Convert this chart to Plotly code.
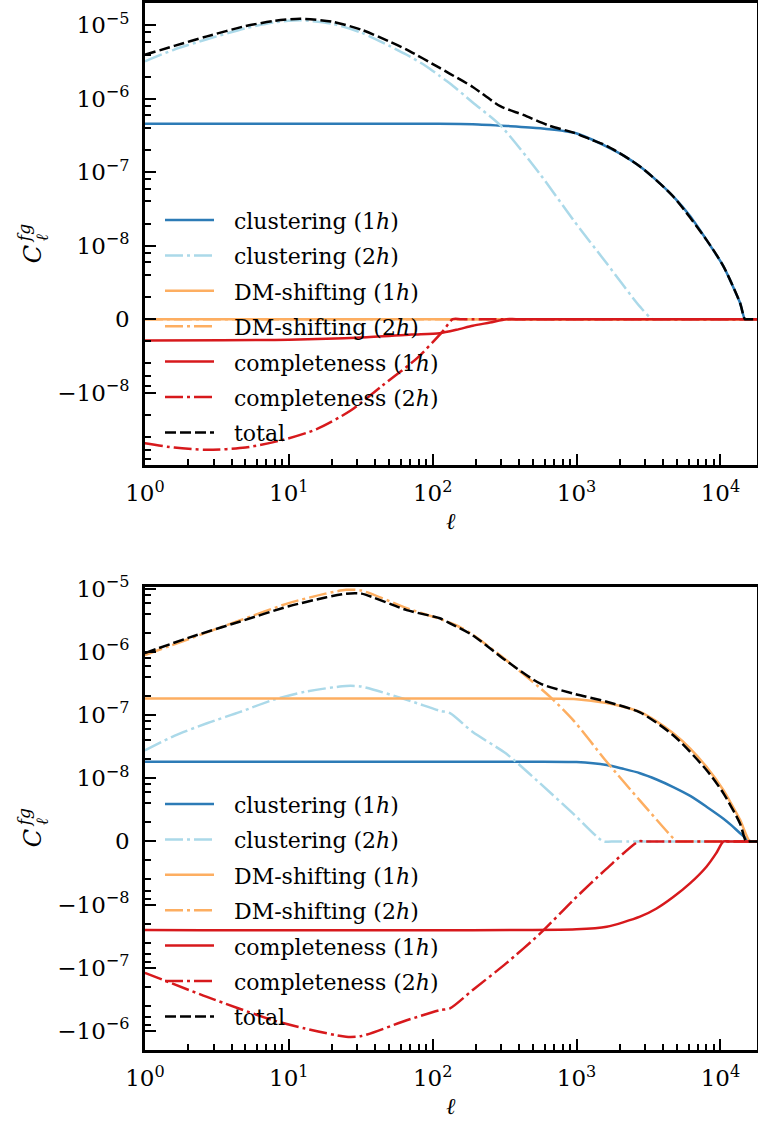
import numpy as np
import plotly.graph_objects as go

# ---------------------------------------------------------------
# Cross-correlation spectra C_ell^{fg}, symmetric-log y axis
# ---------------------------------------------------------------
LINTHRESH = 1e-8


def symlog(v):
    """Symmetric log transform: linear inside +-LINTHRESH, log10 outside (one decade per unit)."""
    v = np.asarray(v, dtype=float)
    a = np.abs(v)
    out = np.where(a < LINTHRESH, v / LINTHRESH,
                   np.sign(v) * (1.0 + np.log10(np.maximum(a, LINTHRESH) / LINTHRESH)))
    return out


# ---------------- upper panel ----------------
ell_top_cl1 = [1, 10, 100, 190, 330, 560, 950, 1230, 1620, 2110, 2760, 3600, 4700,
               6170, 8000, 10500, 12000, 13700, 14800, 15500, 18000]
top_cl1 = [4.57e-7, 4.57e-7, 4.57e-7, 4.52e-7, 4.27e-7, 3.98e-7, 3.47e-7, 2.88e-7,
           2.24e-7, 1.70e-7, 1.20e-7, 7.76e-8, 4.68e-8, 2.51e-8, 1.20e-8, 7.2e-9,
           4.8e-9, 2.2e-9, 0.0, 0.0, 0.0]

ell_top_cl2 = [1, 1.6, 2.7, 5, 8, 12, 20, 32, 50, 66, 89, 112, 132, 190, 295, 560,
               950, 1620, 2760, 3370, 3800, 18000]
top_cl2 = [3.24e-6, 4.68e-6, 6.46e-6, 9.12e-6, 1.10e-5, 1.17e-5, 1.05e-5, 7.94e-6,
           5.25e-6, 3.98e-6, 2.82e-6, 2.04e-6, 1.62e-6, 8.91e-7, 4.37e-7, 9.33e-8,
           2.24e-8, 7.6e-9, 1.7e-9, 0.0, 0.0, 0.0]

ell_top_dm = [1, 18000]
top_dm1 = [0.0, 0.0]
top_dm2 = [0.0, 0.0]

ell_top_co1 = [1, 10, 32, 71, 112, 146, 190, 250, 325, 380, 18000]
top_co1 = [-2.9e-9, -2.8e-9, -2.5e-9, -2.1e-9, -1.9e-9, -1.45e-9, -9.0e-10,
           -4.5e-10, 0.0, 0.0, 0.0]

ell_top_co2 = [1, 1.6, 2.7, 5, 9.1, 15.5, 26.6, 45, 78, 117, 138, 160, 18000]
top_co2 = [-4.9e-8, -5.6e-8, -6.0e-8, -5.6e-8, -4.4e-8, -3.16e-8, -1.78e-8,
           -9.0e-9, -5.3e-9, -1.7e-9, 0.0, 0.0, 0.0]

ell_top_tot = [1, 1.6, 2.7, 5, 8, 12, 20, 32, 50, 66, 112, 132, 190, 295, 427, 653,
               950, 1240, 1620, 2760, 4700, 8000, 10500, 13700, 14800, 15500, 18000]
top_tot = [3.98e-6, 5.25e-6, 7.08e-6, 9.77e-6, 1.15e-5, 1.23e-5, 1.12e-5, 8.71e-6,
           6.03e-6, 4.68e-6, 2.63e-6, 2.19e-6, 1.45e-6, 7.94e-7, 6.03e-7, 4.27e-7,
           3.47e-7, 2.82e-7, 2.29e-7, 1.20e-7, 4.68e-8, 1.20e-8, 7.2e-9, 2.2e-9,
           0.0, 0.0, 0.0]

# ---------------- lower panel ----------------
ell_bot_cl1 = [1, 316, 1000, 1620, 2110, 2760, 3600, 4700, 6170, 8000, 10500, 12000,
               13700, 16200, 18000]
bot_cl1 = [1.82e-8, 1.82e-8, 1.80e-8, 1.62e-8, 1.41e-8, 1.20e-8, 9.8e-9, 8.6e-9,
           7.2e-9, 5.5e-9, 3.6e-9, 2.5e-9, 1.3e-9, 0.0, 0.0]

ell_bot_cl2 = [1, 1.6, 2.7, 4.6, 7.8, 13, 25, 32, 66, 112, 132, 190, 324, 557, 948,
               1535, 1750, 18000]
bot_cl2 = [2.75e-8, 4.68e-8, 7.41e-8, 1.12e-7, 1.74e-7, 2.34e-7, 2.88e-7, 2.82e-7,
           1.74e-7, 1.17e-7, 1.07e-7, 5.37e-8, 2.45e-8, 9.2e-9, 4.4e-9, 0.0, 0.0, 0.0]

ell_bot_dm1 = [1, 316, 1000, 1620, 2110, 2760, 3600, 4700, 6170, 8000, 10500, 12000,
               13700, 16000, 17000, 18000]
bot_dm1 = [1.82e-7, 1.82e-7, 1.78e-7, 1.55e-7, 1.35e-7, 1.12e-7, 7.94e-8, 5.13e-8,
           2.95e-8, 1.51e-8, 8.1e-9, 5.8e-9, 3.4e-9, 0.0, 0.0, 0.0]

ell_bot_dm2 = [1, 2, 4.6, 10, 18, 25, 32, 66, 112, 132, 158, 190, 324, 653, 948, 1620,
               2750, 4700, 5000, 5600, 18000]
bot_dm2 = [8.91e-7, 1.58e-6, 3.16e-6, 5.89e-6, 8.32e-6, 9.55e-6, 9.33e-6, 4.90e-6,
           3.31e-6, 2.88e-6, 2.40e-6, 1.86e-6, 7.41e-7, 1.95e-7, 8.32e-8, 1.82e-8,
           6.5e-9, 5.0e-10, 0.0, 0.0, 0.0]

ell_bot_co1 = [1, 1000, 1620, 2760, 3600, 4700, 6170, 8000, 9330, 10500, 11500, 18000]
bot_co1 = [-2.51e-8, -2.45e-8, -2.24e-8, -1.55e-8, -1.15e-8, -8.8e-9, -6.6e-9,
           -4.0e-9, -1.9e-9, 0.0, 0.0, 0.0]

ell_bot_co2 = [1, 2.7, 7.8, 13, 25, 32, 66, 112, 132, 190, 324, 557, 948, 1620, 2700,
               3000, 18000]
bot_co2 = [-1.20e-7, -2.88e-7, -6.76e-7, -9.12e-7, -1.23e-6, -1.20e-6, -6.76e-7,
           -4.68e-7, -4.37e-7, -2.24e-7, -8.51e-8, -2.88e-8, -9.3e-9, -4.3e-9, 0.0,
           0.0, 0.0]

ell_bot_tot = [1, 2, 4.6, 10, 18, 25, 32, 66, 112, 132, 190, 324, 557, 948, 1620, 2760,
               4700, 8000, 10500, 13700, 15100, 16000, 18000]
bot_tot = [9.55e-7, 1.66e-6, 3.02e-6, 5.25e-6, 7.24e-6, 8.32e-6, 8.32e-6, 4.57e-6,
           3.39e-6, 2.82e-6, 1.82e-6, 7.24e-7, 3.16e-7, 2.19e-7, 1.62e-7, 1.10e-7,
           4.79e-8, 1.35e-8, 7.6e-9, 2.8e-9, 0.0, 0.0, 0.0]

# ---------------- labels / ticks ----------------
series_names = ["clustering (1<i>h</i>)", "clustering (2<i>h</i>)",
                "DM-shifting (1<i>h</i>)", "DM-shifting (2<i>h</i>)",
                "completeness (1<i>h</i>)", "completeness (2<i>h</i>)", "total"]
x_tick_vals = [1, 10, 100, 1000, 10000]
x_tick_text = ["10<sup>0</sup>", "10<sup>1</sup>", "10<sup>2</sup>",
               "10<sup>3</sup>", "10<sup>4</sup>"]
top_y_ticks = [1e-5, 1e-6, 1e-7, 1e-8, 0.0, -1e-8]
bot_y_ticks = [1e-5, 1e-6, 1e-7, 1e-8, 0.0, -1e-8, -1e-7, -1e-6]

# ---------------- styling ----------------
C_CL1 = "#2c7bb6"
C_CL2 = "#abd9e9"
C_DM = "#fdae61"
C_CO = "#d7191c"
C_TOT = "#000000"
SOLID = "solid"
DASHDOT = "18px,4px,3px,4px"
DASHED = "11px,4px"
styles = [(C_CL1, SOLID), (C_CL2, DASHDOT), (C_DM, SOLID), (C_DM, DASHDOT),
          (C_CO, SOLID), (C_CO, DASHDOT), (C_TOT, DASHED)]

FONT = "DejaVu Serif"
W, H = 758, 1121
X0, X1 = 144.9, 757.0
TOP_PANEL = (3.3, 465.0)
BOT_PANEL = (586.7, 1050.0)


def ylabel(v):
    if v == 0:
        return "0"
    e = int(round(np.log10(abs(v))))
    s = "−" if v < 0 else ""
    return f"{s}10<sup>−{abs(e)}</sup>"


def minor_positions(tmin, tmax):
    pos = []
    for k in range(0, 8):
        for m in (2, 4, 6, 8):
            for sgn in (1, -1):
                t = sgn * (k + np.log10(m))
                if tmin < t < tmax:
                    pos.append(float(t))
    return sorted(set(pos))


x_minor = [m * 10 ** e for e in range(0, 5) for m in range(2, 10) if m * 10 ** e < 18000]

panels = [
    dict(sfx="", px=TOP_PANEL, yr=[-1.985, 4.30], yt=top_y_ticks,
         data=[(ell_top_cl1, top_cl1), (ell_top_cl2, top_cl2), (ell_top_dm, top_dm1),
               (ell_top_dm, top_dm2), (ell_top_co1, top_co1), (ell_top_co2, top_co2),
               (ell_top_tot, top_tot)],
         leg_y0=220.0),
    dict(sfx="2", px=BOT_PANEL, yr=[-3.30, 4.03], yt=bot_y_ticks,
         data=[(ell_bot_cl1, bot_cl1), (ell_bot_cl2, bot_cl2), (ell_bot_dm1, bot_dm1),
               (ell_bot_dm2, bot_dm2), (ell_bot_co1, bot_co1), (ell_bot_co2, bot_co2),
               (ell_bot_tot, bot_tot)],
         leg_y0=804.0),
]

fig = go.Figure()
shapes, annotations = [], []
LEG_STEP = 35.4


def px_x(x):
    return x / W


def px_y(y):
    return 1 - y / H


for p in panels:
    sfx = p["sfx"]
    for (ell, vals), (col, dash), name in zip(p["data"], styles, series_names):
        fig.add_trace(go.Scatter(
            x=ell, y=symlog(vals), mode="lines", name=name,
            line=dict(color=col, width=2.5, dash=dash, shape="spline", smoothing=0.7),
            xaxis="x" + sfx, yaxis="y" + sfx, showlegend=False, hoverinfo="skip"))

    y_top, y_bot = p["px"]
    common = dict(showline=True, linecolor="black", linewidth=2.5, mirror=True,
                  showgrid=False, zeroline=False, automargin=False,
                  ticks="inside", ticklen=11, tickwidth=2, tickcolor="black",
                  tickfont=dict(family=FONT, size=23, color="black"))
    fig.update_layout(**{
        "xaxis" + sfx: dict(type="log", range=[0, np.log10(18000) - 0.001],
                            domain=[px_x(X0), px_x(X1)], anchor="y" + sfx,
                            tickmode="array", tickvals=x_tick_vals, ticktext=x_tick_text,
                            ticklabelstandoff=6,
                            minor=dict(tickmode="array", tickvals=x_minor, ticks="inside",
                                       ticklen=6, tickwidth=1.5, tickcolor="black",
                                       showgrid=False),
                            **common),
        "yaxis" + sfx: dict(range=p["yr"], domain=[px_y(y_bot), px_y(y_top)],
                            anchor="x" + sfx, tickmode="array",
                            tickvals=list(symlog(p["yt"])),
                            ticktext=[ylabel(v) for v in p["yt"]],
                            ticklabelstandoff=8,
                            minor=dict(tickmode="array",
                                       tickvals=minor_positions(*p["yr"]),
                                       ticks="inside", ticklen=6, tickwidth=1.5,
                                       tickcolor="black", showgrid=False),
                            **common),
    })

    # legend block
    for i, ((col, dash), name) in enumerate(zip(styles, series_names)):
        yy = p["leg_y0"] + i * LEG_STEP
        shapes.append(dict(type="line", xref="paper", yref="paper",
                           x0=px_x(165), x1=px_x(214), y0=px_y(yy), y1=px_y(yy),
                           line=dict(color=col, width=2.5, dash=dash)))
        annotations.append(dict(xref="paper", yref="paper", x=px_x(232), y=px_y(yy + 1.5),
                                xanchor="left", yanchor="middle", showarrow=False,
                                text=name, font=dict(family=FONT, size=22, color="black")))

    # x-axis title
    annotations.append(dict(xref="paper", yref="paper", x=px_x(451), y=px_y(y_bot + 56),
                            xanchor="center", yanchor="middle", showarrow=False,
                            text="<i>ℓ</i>", font=dict(family=FONT, size=23, color="black")))
    # y-axis title  C_ell^{fg}
    yc = (y_top + y_bot) / 2 + 20
    annotations.append(dict(xref="paper", yref="paper", x=px_x(33), y=px_y(yc),
                            xanchor="center", yanchor="middle", showarrow=False, textangle=-90,
                            text="<i>C</i>", font=dict(family=FONT, size=24, color="black")))
    annotations.append(dict(xref="paper", yref="paper", x=px_x(24), y=px_y(yc - 20),
                            xanchor="center", yanchor="middle", showarrow=False, textangle=-90,
                            text="<i>fg</i>", font=dict(family=FONT, size=17, color="black")))
    annotations.append(dict(xref="paper", yref="paper", x=px_x(42), y=px_y(yc - 16),
                            xanchor="center", yanchor="middle", showarrow=False, textangle=-90,
                            text="<i>ℓ</i>", font=dict(family=FONT, size=17, color="black")))

fig.update_layout(width=W, height=H, autosize=False, template="none",
                  margin=dict(l=0, r=0, t=0, b=0),
                  paper_bgcolor="white", plot_bgcolor="white",
                  shapes=shapes, annotations=annotations, showlegend=False)

fig.write_html("out.html")
